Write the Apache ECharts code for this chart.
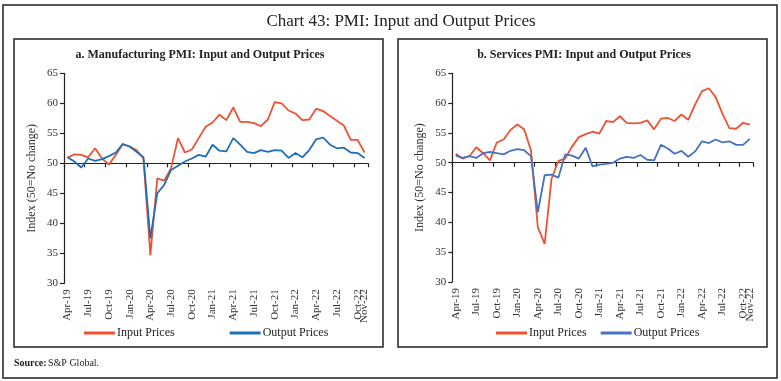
<!DOCTYPE html>
<html>
<head>
<meta charset="utf-8">
<script src="https://cdn.jsdelivr.net/npm/echarts@6/dist/echarts.min.js"></script>
<style>
html,body{margin:0;padding:0;background:#fff;}
#chart{width:781px;height:381px;}
</style>
</head>
<body>
<div id="chart"></div>
<script>
const categories = ['Apr-19','May-19','Jun-19','Jul-19','Aug-19','Sep-19','Oct-19','Nov-19','Dec-19',
  'Jan-20','Feb-20','Mar-20','Apr-20','May-20','Jun-20','Jul-20','Aug-20','Sep-20','Oct-20','Nov-20','Dec-20',
  'Jan-21','Feb-21','Mar-21','Apr-21','May-21','Jun-21','Jul-21','Aug-21','Sep-21','Oct-21','Nov-21','Dec-21',
  'Jan-22','Feb-22','Mar-22','Apr-22','May-22','Jun-22','Jul-22','Aug-22','Sep-22','Oct-22','Nov-22'];

const mfgInput = [50.9, 51.5, 51.4, 51.0, 52.5, 50.8, 49.8, 51.4, 53.2, 52.8,
  52.2, 50.8, 34.7, 47.5, 47.1, 49.2, 54.2, 51.8, 52.3, 54.2,
  56.1, 56.8, 58.1, 57.2, 59.3, 56.9, 56.9, 56.7, 56.2, 57.3,
  60.2, 60.0, 58.8, 58.3, 57.2, 57.3, 59.1, 58.7, 57.9, 57.1,
  56.3, 53.9, 53.9, 51.8];
const mfgOutput = [51.0, 50.3, 49.3, 50.8, 50.4, 50.7, 51.2, 51.8, 53.2, 52.8,
  51.9, 51.0, 37.5, 45.0, 46.4, 48.9, 49.6, 50.3, 50.8, 51.4,
  51.1, 53.1, 52.1, 52.0, 54.2, 53.1, 51.9, 51.7, 52.2, 51.9,
  52.2, 52.1, 50.9, 51.7, 51.0, 52.2, 54.0, 54.3, 53.1, 52.5,
  52.6, 51.8, 51.7, 50.9];
const svcInput = [51.5, 50.7, 51.1, 52.6, 51.6, 50.4, 53.4, 53.9, 55.5, 56.4,
  55.6, 52.1, 39.2, 36.4, 47.3, 50.3, 50.7, 52.7, 54.3, 54.8,
  55.2, 54.9, 57.0, 56.8, 57.8, 56.7, 56.6, 56.7, 57.1, 55.6,
  57.4, 57.5, 57.0, 58.1, 57.2, 59.8, 62.0, 62.5, 61.0, 58.2,
  55.8, 55.7, 56.7, 56.4];
const svcOutput = [51.2, 50.8, 51.1, 50.8, 51.6, 51.8, 51.6, 51.4, 52.0, 52.3,
  52.1, 51.1, 41.7, 47.9, 48.0, 47.5, 51.4, 51.2, 50.7, 52.5,
  49.4, 49.7, 49.8, 50.0, 50.7, 51.0, 50.8, 51.3, 50.5, 50.4,
  53.0, 52.4, 51.5, 52.0, 51.0, 51.9, 53.6, 53.3, 53.9, 53.4,
  53.6, 53.0, 53.0, 54.0];

const yMin = 30, yMax = 65, yStep = 5, refLine = 50;
const seriesNames = ['Input Prices', 'Output Prices'];
const mainTitle = 'Chart 43: PMI: Input and Output Prices';
const panelTitles = ['a. Manufacturing PMI: Input and Output Prices', 'b. Services PMI: Input and Output Prices'];
const yName = 'Index (50=No change)';

const FONT = 'Liberation Serif';
const RED = '#EF5232';
const BLUE_L = '#1F6FB8';
const BLUE_R = '#4572C4';

const grids = [
  {left: 64, top: 73.3, width: 304, height: 210},
  {left: 452.3, top: 73.3, width: 301, height: 208.7}
];

const chart = echarts.init(document.getElementById('chart'), null, {renderer: 'canvas'});

const lastIdx = categories.length - 1;
const labelStyle = {rotate: 90, margin: 6, fontFamily: FONT, fontSize: 11, color: '#333', hideOverlap: false};
const xAxes = [], yAxes = [], series = [];
grids.forEach((g, gi) => {
  const offset50 = -g.height * (refLine - yMin) / (yMax - yMin);
  // quarterly labels
  xAxes.push({
    type: 'category', gridIndex: gi, data: categories, position: 'bottom', boundaryGap: true,
    axisLine: {show: false}, axisTick: {show: false}, splitLine: {show: false},
    axisLabel: Object.assign({}, labelStyle, {showMinLabel: true, showMaxLabel: true, interval: (idx) => idx % 3 === 0})
  });
  // final month label
  xAxes.push({
    type: 'category', gridIndex: gi, data: categories, position: 'bottom', boundaryGap: true,
    axisLine: {show: false}, axisTick: {show: false}, splitLine: {show: false},
    axisLabel: Object.assign({}, labelStyle, {showMaxLabel: true, interval: (idx) => idx === lastIdx})
  });
  // axis line at 50 with ticks
  xAxes.push({
    type: 'category', gridIndex: gi, data: categories, position: 'bottom', boundaryGap: true,
    offset: offset50,
    axisLine: {show: true, lineStyle: {color: '#222', width: 1.2}},
    axisTick: {show: true, length: 4, lineStyle: {color: '#222', width: 1.2},
      interval: (idx) => idx % 3 === 0},
    axisLabel: {show: false}, splitLine: {show: false}
  });
  yAxes.push({
    type: 'value', gridIndex: gi, min: yMin, max: yMax, interval: yStep,
    name: yName, nameLocation: 'middle', nameGap: 26, nameRotate: 90,
    nameTextStyle: {fontFamily: FONT, fontSize: 12, color: '#333'},
    axisLine: {show: true, lineStyle: {color: '#222', width: 1.2}},
    axisTick: {show: true, length: 4, lineStyle: {color: '#222', width: 1.2}},
    axisLabel: {fontFamily: FONT, fontSize: 11, color: '#333', margin: 6},
    splitLine: {show: false}
  });
});

const panelData = [[mfgInput, mfgOutput], [svcInput, svcOutput]];
const panelColors = [[RED, BLUE_L], [RED, BLUE_R]];
panelData.forEach((pair, gi) => {
  pair.forEach((d, si) => {
    series.push({
      type: 'line', name: seriesNames[si], xAxisIndex: gi * 3, yAxisIndex: gi,
      data: d, symbol: 'none', smooth: false,
      color: panelColors[gi][si],
      lineStyle: {color: panelColors[gi][si], width: 1.8},
      z: si === 0 ? 3 : 4
    });
  });
});

const legends = [
  {left: 79, gap: 55, colors: panelColors[0]},
  {left: 491, gap: 14, colors: panelColors[1]}
].map(l => ({
  left: l.left, top: 322, orient: 'horizontal', icon: 'rect',
  itemWidth: 31, itemHeight: 3, itemGap: l.gap, selectedMode: false,
  textStyle: {fontFamily: FONT, fontSize: 12, color: '#222', padding: [0, 0, 0, -3]},
  data: seriesNames.map((n, i) => ({name: n, itemStyle: {color: l.colors[i]}}))
}));

const graphics = [
  {type: 'rect', shape: {x: 3, y: 5, width: 774, height: 373}, style: {fill: 'none', stroke: '#222', lineWidth: 1.5}},
  {type: 'rect', shape: {x: 14, y: 39, width: 369, height: 308}, style: {fill: 'none', stroke: '#222', lineWidth: 1.5}},
  {type: 'rect', shape: {x: 398, y: 39, width: 369, height: 308}, style: {fill: 'none', stroke: '#222', lineWidth: 1.5}},
  {type: 'text', x: 401, y: 22, style: {text: mainTitle, fontFamily: FONT, fontSize: 17, fill: '#222', align: 'center', verticalAlign: 'middle'}},
  {type: 'text', x: 200, y: 55, style: {text: panelTitles[0], fontFamily: FONT, fontSize: 12, fontWeight: 'bold', fill: '#222', align: 'center', verticalAlign: 'middle'}},
  {type: 'text', x: 584, y: 55, style: {text: panelTitles[1], fontFamily: FONT, fontSize: 12, fontWeight: 'bold', fill: '#222', align: 'center', verticalAlign: 'middle'}},
  {type: 'text', x: 14, y: 363, style: {text: 'Source:', fontFamily: FONT, fontSize: 10, fontWeight: 'bold', fill: '#222', align: 'left', verticalAlign: 'middle'}},
  {type: 'text', x: 48, y: 363, style: {text: 'S&P Global.', fontFamily: FONT, fontSize: 10, fill: '#222', align: 'left', verticalAlign: 'middle'}}
];

chart.setOption({
  backgroundColor: '#fff',
  animation: false,
  grid: grids.map(g => ({left: g.left, top: g.top, width: g.width, height: g.height, containLabel: false})),
  xAxis: xAxes,
  yAxis: yAxes,
  legend: legends,
  series: series,
  graphic: graphics
});
</script>
</body>
</html>
